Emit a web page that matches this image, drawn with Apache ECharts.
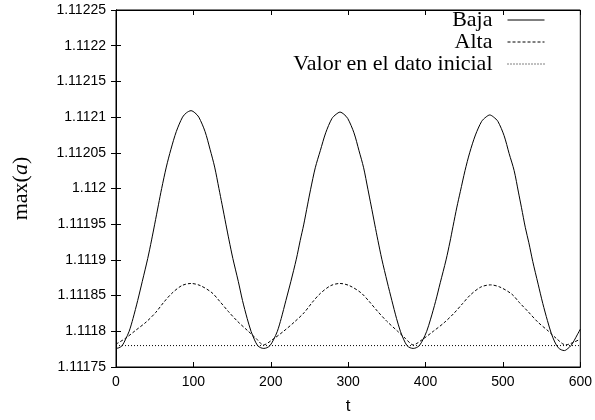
<!DOCTYPE html>
<html>
<head>
<meta charset="utf-8">
<script src="https://cdn.jsdelivr.net/npm/echarts@6/dist/echarts.min.js"></script>
<style>
html, body { margin: 0; padding: 0; background: #fff; }
#main { width: 595px; height: 420px; }
</style>
</head>
<body>
<div id="main"></div>
<script>
// Baja (solid)
var bajaT = [0, 4, 8, 12, 17, 22, 28, 34, 41, 46, 50, 55, 59, 65, 71, 78, 86, 91, 97,
    102, 107, 115, 121.5, 127.5, 133, 137, 142, 146, 151, 158, 163.5, 169.5, 174.5, 179, 183, 187, 191,
    195, 199, 203.5, 208.5, 213.5, 219.5, 226, 233, 238, 242.5, 247.5, 251.5, 257.5, 264, 271, 279, 284.5, 289.5,
    294.5, 299.5, 307.5, 314, 320, 325.5, 329.5, 334.5, 338.5, 343.5, 350.5, 356.5, 362.5, 367.5, 372, 376, 380, 384,
    388, 392, 396.5, 401.5, 406.5, 413, 419, 426.5, 431.5, 435.5, 440.5, 445, 451, 457, 464.5, 472.5, 478, 483,
    488, 493.5, 501.5, 508, 514.5, 520, 524, 529, 533.5, 538.5, 545.5, 551.5, 557.5, 562.5, 567, 571.5, 575.5, 579.5,
    584, 588, 592, 596, 600];
var bajaV = [1.111776, 1.111777, 1.111780, 1.111788, 1.111800, 1.111818, 1.111843, 1.111870, 1.111902, 1.111928, 1.111950, 1.111978, 1.112000, 1.112030, 1.112055, 1.112080, 1.112100, 1.112106, 1.112109,
    1.112106, 1.112100, 1.112080, 1.112055, 1.112030, 1.112000, 1.111978, 1.111950, 1.111928, 1.111902, 1.111870, 1.111843, 1.111818, 1.111800, 1.111788, 1.111780, 1.111777, 1.111776,
    1.111777, 1.111780, 1.111788, 1.111800, 1.111818, 1.111843, 1.111870, 1.111901, 1.111927, 1.111949, 1.111977, 1.111999, 1.112029, 1.112053, 1.112078, 1.112098, 1.112104, 1.112107,
    1.112104, 1.112098, 1.112078, 1.112053, 1.112029, 1.111999, 1.111977, 1.111949, 1.111927, 1.111901, 1.111869, 1.111843, 1.111818, 1.111800, 1.111788, 1.111780, 1.111777, 1.111776,
    1.111777, 1.111780, 1.111788, 1.111800, 1.111817, 1.111842, 1.111868, 1.111900, 1.111925, 1.111947, 1.111974, 1.111996, 1.112025, 1.112050, 1.112075, 1.112094, 1.112100, 1.112103,
    1.112100, 1.112094, 1.112074, 1.112049, 1.112025, 1.111995, 1.111973, 1.111945, 1.111924, 1.111898, 1.111866, 1.111839, 1.111815, 1.111797, 1.111785, 1.111777, 1.111774, 1.111773,
    1.111776, 1.111780, 1.111787, 1.111795, 1.111803];

// Alta (dashed)
var altaT = [0, 12, 25, 39, 51, 62, 72, 85, 97, 109, 124, 134, 145, 157, 171, 181, 190.5,
    203, 216.5, 230.5, 243, 254, 264, 277.5, 289.5, 301.5, 316.5, 327, 338, 350, 364, 374, 384,
    396.5, 410, 424, 436.5, 448, 458, 471.5, 484, 496, 511.5, 521.5, 533, 545, 559, 569, 581, 590, 600];
var altaV = [1.111782, 1.111790, 1.111801, 1.111813, 1.111826, 1.111841, 1.111853, 1.111864, 1.111867, 1.111864, 1.111854, 1.111842, 1.111828, 1.111814, 1.111800, 1.111790, 1.111781,
    1.111789, 1.111800, 1.111813, 1.111826, 1.111841, 1.111853, 1.111864, 1.111867, 1.111864, 1.111854, 1.111842, 1.111828, 1.111814, 1.111800, 1.111790, 1.111781,
    1.111789, 1.111800, 1.111812, 1.111825, 1.111839, 1.111851, 1.111862, 1.111865, 1.111862, 1.111852, 1.111840, 1.111827, 1.111813, 1.111800, 1.111790, 1.111781, 1.111784, 1.111789];

// Valor en el dato inicial (dotted)
var valorT = [0, 600];
var valorV = [1.11178, 1.11178];

var names = ['Baja', 'Alta', 'Valor en el dato inicial'];

function pairs(t, v) {
    var out = [];
    for (var i = 0; i < t.length; i++) out.push([t[i], v[i]]);
    return out;
}

var myChart = echarts.init(document.getElementById('main'));

var tickStyle = { show: true, inside: true, length: 5, lineStyle: { color: '#000', width: 1 } };
var sans = 'Liberation Sans, Arial, sans-serif';
var serif = 'Liberation Serif, Times New Roman, serif';

option = {
    animation: false,
    backgroundColor: '#fff',
    grid: {
        left: 116,
        right: 14,
        top: 10,
        bottom: 50,
        show: true,
        borderColor: '#000',
        borderWidth: 1
    },
    legend: {
        orient: 'vertical',
        right: 45,
        top: 4,
        align: 'right',
        itemWidth: 37,
        itemHeight: 10,
        itemGap: 0,
        data: names,
        itemStyle: { opacity: 0 },
        lineStyle: { width: 1 },
        textStyle: { fontFamily: serif, fontSize: 22, color: '#000', padding: [0, 10, 0, 0] }
    },
    xAxis: [
        {
            type: 'value',
            min: 0,
            max: 600,
            interval: 100,
            name: 't',
            nameLocation: 'middle',
            nameGap: 31,
            nameTextStyle: { fontFamily: sans, fontSize: 17, color: '#000' },
            axisLine: { show: true, lineStyle: { color: '#000' } },
            axisTick: tickStyle,
            axisLabel: { fontFamily: sans, fontSize: 14, color: '#000', margin: 8 },
            splitLine: { show: false }
        },
        {
            type: 'value',
            position: 'top',
            min: 0,
            max: 600,
            interval: 100,
            axisLine: { show: true, lineStyle: { color: '#000' } },
            axisTick: tickStyle,
            axisLabel: { show: false },
            splitLine: { show: false }
        }
    ],
    yAxis: [
        {
            type: 'value',
            min: 1.11175,
            max: 1.11225,
            interval: 0.00005,
            name: 'max({i|a})',
            nameLocation: 'middle',
            nameGap: 84,
            nameRotate: 90,
            nameTextStyle: {
                fontFamily: serif, fontSize: 22, color: '#000',
                rich: { i: { fontFamily: serif, fontSize: 22, fontStyle: 'italic', color: '#000' } }
            },
            axisLine: { show: true, lineStyle: { color: '#000' } },
            axisTick: tickStyle,
            axisLabel: {
                fontFamily: sans, fontSize: 14, color: '#000', margin: 10,
                formatter: function (v) { return String(parseFloat(v.toFixed(5))); }
            },
            splitLine: { show: false }
        },
        {
            type: 'value',
            position: 'right',
            min: 1.11175,
            max: 1.11225,
            interval: 0.00005,
            axisLine: { show: true, lineStyle: { color: '#000' } },
            axisTick: tickStyle,
            axisLabel: { show: false },
            splitLine: { show: false }
        }
    ],
    series: [
        {
            name: names[0],
            type: 'line',
            data: pairs(bajaT, bajaV),
            symbol: 'none',
            smooth: 0.3,
            lineStyle: { color: '#000', width: 1, type: 'solid' },
            itemStyle: { color: '#000' }
        },
        {
            name: names[1],
            type: 'line',
            data: pairs(altaT, altaV),
            symbol: 'none',
            smooth: 0.3,
            lineStyle: { color: '#000', width: 1, type: [3, 2] },
            itemStyle: { color: '#000' }
        },
        {
            name: names[2],
            type: 'line',
            data: pairs(valorT, valorV),
            symbol: 'none',
            lineStyle: { color: '#000', width: 1, type: [1, 2] },
            itemStyle: { color: '#000' }
        }
    ]
};
myChart.setOption(option);
</script>
</body>
</html>
